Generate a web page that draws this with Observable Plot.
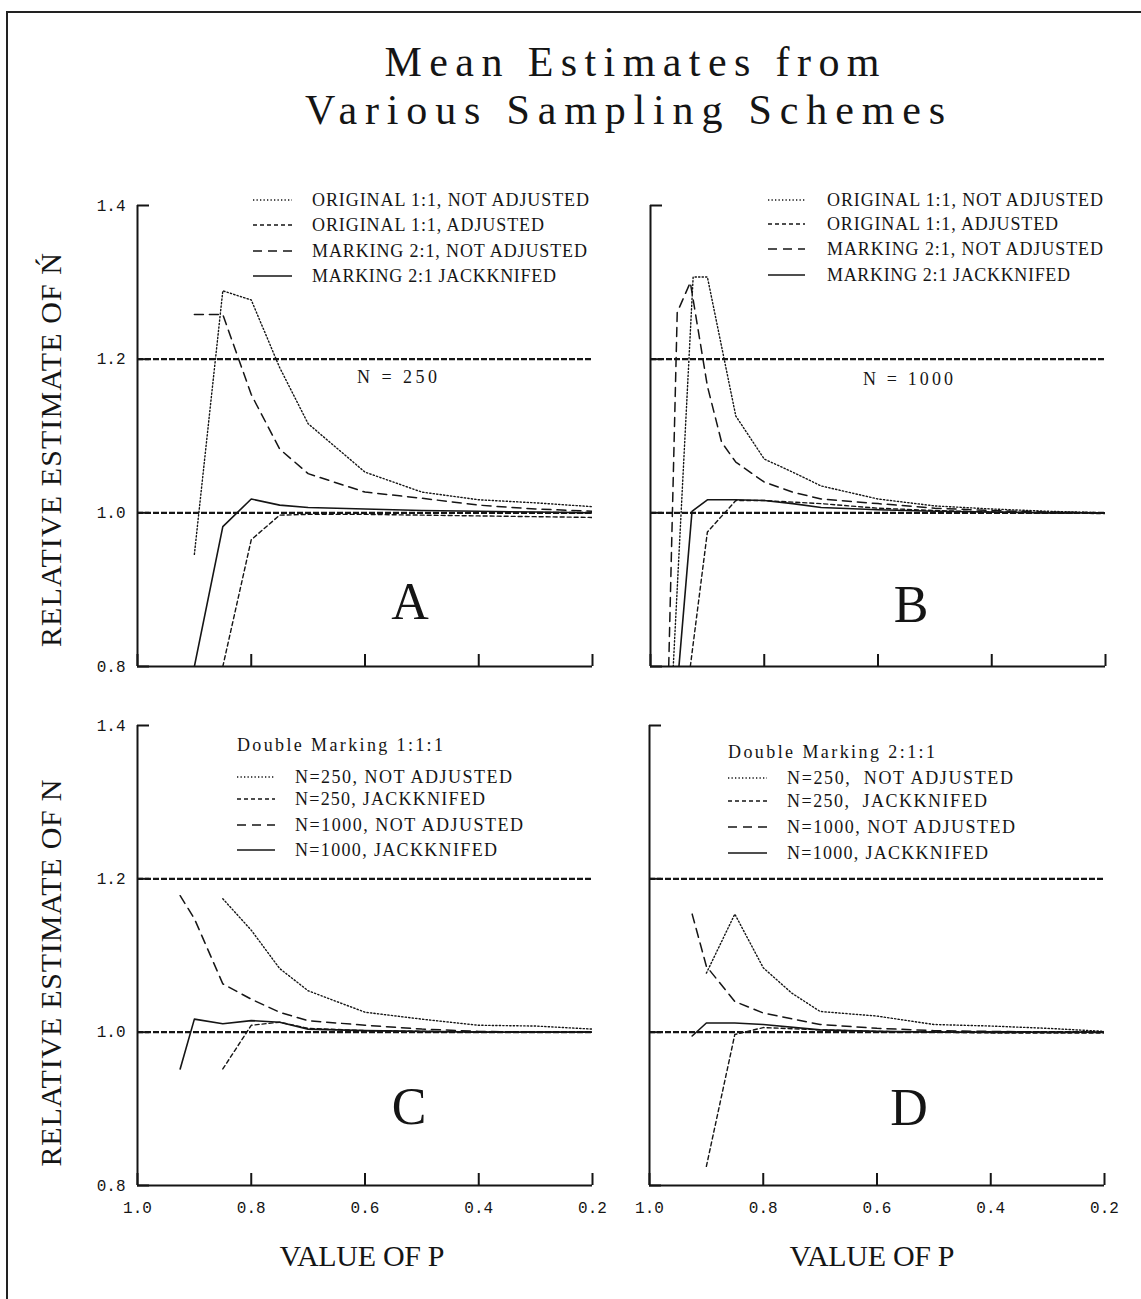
<!DOCTYPE html>
<html><head><meta charset="utf-8">
<script src="https://cdn.jsdelivr.net/npm/d3@7"></script>
<script src="https://cdn.jsdelivr.net/npm/@observablehq/plot@0.6"></script>
<style>
html,body{margin:0;padding:0;background:#fff;}
#page{position:relative;width:1141px;height:1299px;overflow:hidden;background:#fff;}
.panel{position:absolute;}
#overlay{position:absolute;left:0;top:0;pointer-events:none;}
#frame{position:absolute;left:6px;top:11px;width:1135px;height:1288px;border-left:2px solid #222;border-top:2px solid #222;box-sizing:border-box;}
</style></head><body><div id="page"><div id="frame"></div></div>
<script>
// ---------- DATA ----------
// Panel A: N = 250
const pA_origNotAdj = [0.9, 0.85, 0.8, 0.75, 0.7, 0.6, 0.5, 0.4, 0.3, 0.2];
const vA_origNotAdj = [0.946, 1.289, 1.277, 1.189, 1.116, 1.053, 1.027, 1.017, 1.013, 1.008];
const pA_origAdj = [0.85, 0.8, 0.75, 0.7, 0.6, 0.5, 0.4, 0.3, 0.2];
const vA_origAdj = [0.80, 0.965, 0.997, 0.998, 0.998, 0.997, 0.996, 0.995, 0.994];
const pA_markNotAdj = [0.9, 0.85, 0.8, 0.75, 0.7, 0.6, 0.5, 0.4, 0.3, 0.2];
const vA_markNotAdj = [1.258, 1.258, 1.154, 1.083, 1.051, 1.027, 1.019, 1.010, 1.005, 1.002];
const pA_markJack = [0.9, 0.85, 0.8, 0.75, 0.7, 0.6, 0.5, 0.4, 0.3, 0.2];
const vA_markJack = [0.80, 0.982, 1.018, 1.010, 1.007, 1.005, 1.003, 1.002, 1.001, 1.000];

// Panel B: N = 1000
const pB_origNotAdj = [0.96, 0.925, 0.9, 0.85, 0.8, 0.75, 0.7, 0.6, 0.5, 0.4, 0.3, 0.2];
const vB_origNotAdj = [0.80, 1.307, 1.307, 1.126, 1.070, 1.053, 1.035, 1.018, 1.009, 1.005, 1.002, 1.000];
const pB_origAdj = [0.93, 0.9, 0.85, 0.8, 0.75, 0.7, 0.6, 0.5, 0.4, 0.3, 0.2];
const vB_origAdj = [0.80, 0.975, 1.016, 1.016, 1.014, 1.012, 1.006, 1.003, 1.001, 1.000, 0.999];
const pB_markNotAdj = [0.968, 0.953, 0.93, 0.9, 0.875, 0.85, 0.8, 0.75, 0.7, 0.6, 0.5, 0.4, 0.3, 0.2];
const vB_markNotAdj = [0.80, 1.261, 1.300, 1.165, 1.092, 1.066, 1.040, 1.027, 1.018, 1.012, 1.006, 1.003, 1.001, 1.000];
const pB_markJack = [0.95, 0.927, 0.9, 0.85, 0.8, 0.75, 0.7, 0.6, 0.5, 0.4, 0.3, 0.2];
const vB_markJack = [0.80, 1.002, 1.017, 1.017, 1.016, 1.012, 1.007, 1.004, 1.002, 1.001, 1.000, 1.000];

// Panel C: Double Marking 1:1:1
const pC_250NotAdj = [0.85, 0.8, 0.75, 0.7, 0.6, 0.5, 0.4, 0.3, 0.2];
const vC_250NotAdj = [1.174, 1.133, 1.083, 1.054, 1.026, 1.017, 1.009, 1.008, 1.004];
const pC_250Jack = [0.85, 0.8, 0.75, 0.7, 0.6, 0.5, 0.4, 0.3, 0.2];
const vC_250Jack = [0.952, 1.009, 1.013, 1.005, 1.002, 1.001, 1.000, 1.000, 1.000];
const pC_1000NotAdj = [0.925, 0.9, 0.85, 0.8, 0.75, 0.7, 0.6, 0.5, 0.4, 0.3, 0.2];
const vC_1000NotAdj = [1.178, 1.148, 1.063, 1.043, 1.026, 1.015, 1.009, 1.004, 1.001, 1.000, 1.000];
const pC_1000Jack = [0.925, 0.9, 0.85, 0.8, 0.75, 0.7, 0.6, 0.5, 0.4, 0.3, 0.2];
const vC_1000Jack = [0.952, 1.017, 1.011, 1.015, 1.013, 1.004, 1.002, 1.001, 1.000, 1.000, 1.000];

// Panel D: Double Marking 2:1:1
const pD_250NotAdj = [0.9, 0.85, 0.8, 0.75, 0.7, 0.6, 0.5, 0.4, 0.3, 0.2];
const vD_250NotAdj = [1.077, 1.154, 1.084, 1.051, 1.027, 1.021, 1.010, 1.008, 1.005, 1.001];
const pD_250Jack = [0.9, 0.85, 0.8, 0.7, 0.6, 0.5, 0.4, 0.3, 0.2];
const vD_250Jack = [0.825, 0.997, 1.006, 1.003, 1.001, 1.000, 0.999, 0.999, 0.999];
const pD_1000NotAdj = [0.925, 0.9, 0.85, 0.8, 0.7, 0.6, 0.5, 0.4, 0.3, 0.2];
const vD_1000NotAdj = [1.154, 1.086, 1.040, 1.025, 1.010, 1.005, 1.002, 1.001, 1.000, 1.000];
const pD_1000Jack = [0.925, 0.9, 0.85, 0.8, 0.7, 0.6, 0.5, 0.4, 0.3, 0.2];
const vD_1000Jack = [0.995, 1.012, 1.012, 1.010, 1.003, 1.001, 1.000, 1.000, 1.000, 1.000];

// Axes / reference levels
const X_DOMAIN = [1.0, 0.2];
const Y_DOMAIN = [0.8, 1.4];
const xTicks = [1.0, 0.8, 0.6, 0.4, 0.2];
const yTicks = [0.8, 1.0, 1.2, 1.4];
const refLevels = [1.0, 1.2];

// Text
const titleLines = ["Mean Estimates from", "Various Sampling Schemes"];
const yLabelTop = "RELATIVE ESTIMATE OF \u0143";
const yLabelBottom = "RELATIVE ESTIMATE OF N";
const xLabel = "VALUE OF P";
const legendAB = ["ORIGINAL 1:1, NOT ADJUSTED", "ORIGINAL 1:1, ADJUSTED", "MARKING 2:1, NOT ADJUSTED", "MARKING 2:1 JACKKNIFED"];
const legendC = ["N=250, NOT ADJUSTED", "N=250, JACKKNIFED", "N=1000, NOT ADJUSTED", "N=1000, JACKKNIFED"];
const legendD = ["N=250,  NOT ADJUSTED", "N=250,  JACKKNIFED", "N=1000, NOT ADJUSTED", "N=1000, JACKKNIFED"];
const headerC = "Double Marking 1:1:1";
const headerD = "Double Marking 2:1:1";
const noteA = "N = 250";
const noteB = "N = 1000";
const panelLetters = ["A", "B", "C", "D"];

// ---------- STYLE ----------
const INK = "#151515";
const SERIF = "'Liberation Serif', 'DejaVu Serif', serif";
const MONO = "'Liberation Mono', 'DejaVu Sans Mono', monospace";
const lineStyles = {
  dotted: {strokeDasharray: "1.3,2.2", strokeWidth: 1.4},
  shortDash: {strokeDasharray: "4,3", strokeWidth: 1.4},
  longDash: {strokeDasharray: "9,6", strokeWidth: 1.5},
  solid: {strokeWidth: 1.6}
};
const styleOrder = ["dotted", "shortDash", "longDash", "solid"];

function series(p, v, style) { return {data: p.map((x, i) => ({p: x, v: v[i]})), style}; }

const panels = [
  {series: [series(pA_origNotAdj, vA_origNotAdj, "dotted"), series(pA_origAdj, vA_origAdj, "shortDash"),
            series(pA_markNotAdj, vA_markNotAdj, "longDash"), series(pA_markJack, vA_markJack, "solid")],
   left: 0, top: 180, width: 605, height: 500, ml: 137, mr: 13, mt: 25, mb: 14, xLabels: false, yLabels: true},
  {series: [series(pB_origNotAdj, vB_origNotAdj, "dotted"), series(pB_origAdj, vB_origAdj, "shortDash"),
            series(pB_markNotAdj, vB_markNotAdj, "longDash"), series(pB_markJack, vB_markJack, "solid")],
   left: 620, top: 180, width: 498, height: 500, ml: 30, mr: 13, mt: 25, mb: 14, xLabels: false, yLabels: false},
  {series: [series(pC_250NotAdj, vC_250NotAdj, "dotted"), series(pC_250Jack, vC_250Jack, "shortDash"),
            series(pC_1000NotAdj, vC_1000NotAdj, "longDash"), series(pC_1000Jack, vC_1000Jack, "solid")],
   left: 0, top: 700, width: 605, height: 525, ml: 137, mr: 13, mt: 25, mb: 40, xLabels: true, yLabels: true},
  {series: [series(pD_250NotAdj, vD_250NotAdj, "dotted"), series(pD_250Jack, vD_250Jack, "shortDash"),
            series(pD_1000NotAdj, vD_1000NotAdj, "longDash"), series(pD_1000Jack, vD_1000Jack, "solid")],
   left: 620, top: 700, width: 497, height: 525, ml: 29, mr: 13, mt: 25, mb: 40, xLabels: true, yLabels: false}
];

const fmt = d => d.toFixed(1);
const page = document.getElementById("page");

for (const o of panels) {
  const marks = [Plot.ruleY(refLevels, {stroke: INK, strokeWidth: 2.2, strokeDasharray: "6,2"})];
  for (const s of o.series) {
    marks.push(Plot.line(s.data, {x: "p", y: "v", stroke: INK, clip: true, ...lineStyles[s.style]}));
  }
  marks.push(Plot.ruleX([X_DOMAIN[0]], {stroke: INK, strokeWidth: 2}));
  marks.push(Plot.ruleY([Y_DOMAIN[0]], {stroke: INK, strokeWidth: 2}));
  marks.push(Plot.axisY(yTicks, {anchor: "left", tickSize: -12, tickPadding: 24, strokeWidth: 2, stroke: INK, fill: INK,
    tickFormat: o.yLabels ? fmt : () => "", label: null}));
  marks.push(Plot.axisX(xTicks, {anchor: "bottom", tickSize: -12, tickPadding: 28, strokeWidth: 2, stroke: INK, fill: INK,
    tickFormat: o.xLabels ? fmt : () => "", label: null}));
  const chart = Plot.plot({
    width: o.width, height: o.height,
    marginLeft: o.ml, marginRight: o.mr, marginTop: o.mt, marginBottom: o.mb,
    x: {domain: X_DOMAIN, label: null},
    y: {domain: Y_DOMAIN, label: null},
    style: {background: "none", fontFamily: MONO, fontSize: "16px", color: INK, overflow: "visible"},
    marks
  });
  chart.classList.add("panel");
  chart.style.left = o.left + "px";
  chart.style.top = o.top + "px";
  page.appendChild(chart);
}

// ---------- OVERLAY TEXT / LEGENDS ----------
const svg = d3.select(page).append("svg").attr("id", "overlay").attr("width", 1141).attr("height", 1299);

function txt(s, x, y, {size = 18, len = null, anchor = "start", rotate = 0, family = SERIF} = {}) {
  const t = svg.append("text").text(s)
    .attr("x", x).attr("y", y)
    .attr("font-family", family).attr("font-size", size)
    .attr("fill", INK).attr("text-anchor", anchor)
    .attr("dominant-baseline", "central")
    .attr("xml:space", "preserve").style("white-space", "pre");
  if (len) t.attr("textLength", len).attr("lengthAdjust", "spacing");
  if (rotate) t.attr("transform", `rotate(${rotate},${x},${y})`);
  return t;
}
function sample(style, x1, x2, y) {
  const st = lineStyles[style];
  svg.append("line").attr("x1", x1).attr("x2", x2).attr("y1", y).attr("y2", y)
    .attr("stroke", INK).attr("stroke-width", st.strokeWidth)
    .attr("stroke-dasharray", st.strokeDasharray || null);
}

// Title
txt(titleLines[0], 632, 62, {size: 42, len: 495, anchor: "middle"});
txt(titleLines[1], 625, 110, {size: 42, len: 640, anchor: "middle"});

// Axis titles
txt(yLabelTop, 50, 450, {size: 30, len: 394, anchor: "middle", rotate: -90});
txt(yLabelBottom, 50, 973, {size: 30, len: 387, anchor: "middle", rotate: -90});
txt(xLabel, 362, 1255, {size: 30, len: 165, anchor: "middle"});
txt(xLabel, 872, 1255, {size: 30, len: 165, anchor: "middle"});

// Legends A & B
const rowsA = [200, 225, 251, 276], widthsA = [277, 232, 275, 244];
const rowsB = [200, 224, 249, 275], widthsB = [276, 231, 276, 243];
legendAB.forEach((s, i) => {
  sample(styleOrder[i], 253, 292, rowsA[i]);
  txt(s, 312, rowsA[i], {len: widthsA[i]});
  sample(styleOrder[i], 768, 805, rowsB[i]);
  txt(s, 827, rowsB[i], {len: widthsB[i]});
});
// Legends C & D
txt(headerC, 237, 745, {len: 206});
txt(headerD, 728, 752, {len: 207});
const rowsC = [777, 799, 825, 850], widthsC = [217, 190, 228, 202];
const rowsD = [778, 801, 827, 853], widthsD = [226, 200, 228, 201];
legendC.forEach((s, i) => {
  sample(styleOrder[i], 237, 275, rowsC[i]);
  txt(s, 295, rowsC[i], {len: widthsC[i]});
});
legendD.forEach((s, i) => {
  sample(styleOrder[i], 728, 767, rowsD[i]);
  txt(s, 787, rowsD[i], {len: widthsD[i]});
});

// Notes
txt(noteA, 397, 377, {len: 80, anchor: "middle"});
txt(noteB, 908, 379, {len: 90, anchor: "middle"});

// Panel letters
const letterPos = [[410, 601], [911, 604], [409, 1106], [909, 1107]];
panelLetters.forEach((s, i) => txt(s, letterPos[i][0], letterPos[i][1], {size: 52, anchor: "middle"}));
</script></body></html>
